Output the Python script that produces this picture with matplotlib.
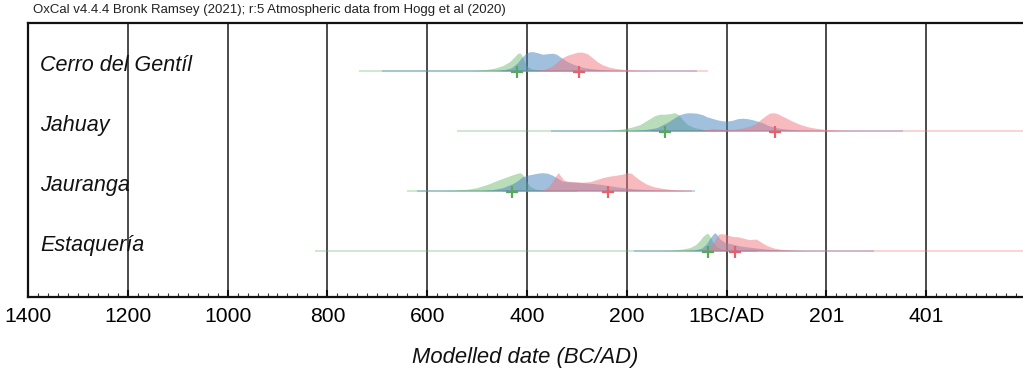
import matplotlib
matplotlib.use("Agg")
import matplotlib.pyplot as plt
from matplotlib.ticker import MultipleLocator

plt.rcParams['font.family'] = ['Liberation Sans', 'DejaVu Sans']

# ---------------- data ----------------
sites = ["Cerro del Gentíl", "Jahuay", "Jauranga", "Estaquería"]
row_pos = [4, 3, 2, 1]

tick_years = [-1400, -1200, -1000, -800, -600, -400, -200, 0, 200, 400]
tick_labels = ["1400", "1200", "1000", "800", "600", "400", "200", "1BC/AD", "201", "401"]

# Cerro del Gentíl
cg_green_x = [-515, -485, -465, -449, -435, -425, -419, -415, -411, -405, -399, -389, -365, -335]
cg_green_p = [0, 1, 2.5, 5, 9, 14, 17, 18, 16, 9, 4, 1.5, 0.3, 0]
cg_blue_x = [-465, -445, -431, -419, -411, -403, -395, -387, -379, -369, -359, -349, -341, -331,
             -319, -305, -289, -271, -249, -225, -195]
cg_blue_p = [0, 1, 3, 8, 13, 17, 19, 19, 18, 16.5, 17, 17.5, 16.5, 13, 9, 6, 3.5, 2, 1, 0.3, 0]
cg_red_x = [-385, -365, -351, -339, -329, -319, -309, -299, -289, -279, -269, -259, -249, -235,
            -219, -199, -174, -144]
cg_red_p = [0, 1.5, 4, 9, 13, 15.5, 17, 18.5, 18.5, 17, 13, 9, 6, 3.5, 2, 1, 0.3, 0]

# Jahuay
jh_green_x = [-255, -231, -211, -191, -174, -164, -154, -144, -134, -124, -114, -104, -96, -88,
              -78, -64, -44, -14, 16]
jh_green_p = [0, 0.7, 1.5, 3.5, 6, 9, 12, 15, 16.5, 16.5, 17, 18, 16, 11, 6, 3, 1, 0.3, 0]
jh_blue_x = [-195, -164, -140, -120, -104, -94, -84, -74, -60, -48, -40, -30, -20, -10, 0, 12,
             22, 32, 42, 52, 62, 72, 82, 92, 106, 120, 146, 187, 227]
jh_blue_p = [0, 1, 3, 8, 13, 16, 17.5, 18, 17.5, 16, 14, 12.5, 11, 10, 9.5, 10.5, 12, 12.5, 12,
             11, 9.5, 8, 5.5, 4, 2.5, 1.5, 0.6, 0.2, 0]
jh_red_x = [-54, -40, -28, -14, 0, 16, 30, 46, 58, 68, 78, 86, 94, 102, 112, 122, 132, 146, 162,
            178, 199, 227, 267]
jh_red_p = [0, 1, 2, 1.5, 1, 1.5, 2.5, 4.5, 7, 11, 15, 17.5, 18, 17, 14.5, 12, 9.5, 6.5, 4, 2.5,
            1.2, 0.5, 0]

# Jauranga
ja_green_x = [-576, -546, -519, -501, -481, -461, -445, -431, -419, -413, -407, -401, -393, -383,
              -365, -345]
ja_green_p = [0, 0.5, 1.5, 3, 6, 10, 13, 15.5, 17.5, 18, 15, 9, 4, 1.5, 0.3, 0]
ja_blue_x = [-495, -469, -449, -429, -419, -409, -399, -389, -379, -369, -359, -349, -339, -329,
             -319, -305, -289, -275, -255, -235, -215, -189, -158, -124, -74]
ja_blue_p = [0, 1, 3, 7, 10, 14, 15.5, 16.5, 17.5, 18, 17.5, 15.5, 12.5, 9.5, 9, 8.5, 8, 7.5,
             6.5, 5, 3.5, 2, 1, 0.4, 0]
ja_red_x = [-379, -365, -355, -347, -341, -337, -333, -327, -319, -305, -289, -275, -261, -249,
            -235, -221, -209, -199, -191, -183, -172, -160, -146, -130, -110, -88, -64]
ja_red_p = [0, 1, 5, 11, 16, 18, 15, 11, 9.5, 9, 8.5, 9, 11, 13, 14.5, 15.5, 16.5, 18, 17.5, 14,
            10, 6.5, 4, 2.5, 1.2, 0.5, 0]

# Estaquería
es_green_x = [-134, -110, -90, -74, -62, -54, -48, -42, -38, -34, -28, -20, -10, 6, 26]
es_green_p = [0, 0.5, 1.5, 3, 6, 10, 14, 16.5, 17.5, 15, 9, 4, 1.5, 0.5, 0]
es_blue_x = [-84, -64, -50, -40, -34, -28, -24, -20, -14, -6, 4, 16, 30, 46, 62, 80, 106, 146, 187]
es_blue_p = [0, 0.8, 2.5, 7, 12, 16, 18, 16.5, 12, 9, 7.5, 6, 4.5, 3.5, 2.5, 1.5, 0.7, 0.2, 0]
es_red_x = [-54, -40, -30, -22, -16, -10, -2, 6, 14, 22, 30, 38, 46, 54, 60, 66, 74, 84, 96, 112,
            130, 156]
es_red_p = [0, 1, 5, 12, 16.5, 17, 16.5, 15, 14, 14, 13, 12, 11, 11.5, 11.5, 9.5, 7, 4.5, 2.5,
            1.2, 0.5, 0]

# medians (crosses)
green_medians = [-421, -124, -431, -38]
red_medians = [-295, 98, -237, 16]

# full ranges (thin lines): (start, end) per row
green_ranges = [(-736, -300), (-541, 0), (-640, -300), (-824, 60)]
blue_ranges = [(-690, -60), (-351, 353), (-620, -64), (-185, 295)]
red_ranges = [(-450, -38), (-150, 700), (-450, -70), (0, 700)]

green_x = [cg_green_x, jh_green_x, ja_green_x, es_green_x]
green_p = [cg_green_p, jh_green_p, ja_green_p, es_green_p]
blue_x = [cg_blue_x, jh_blue_x, ja_blue_x, es_blue_x]
blue_p = [cg_blue_p, jh_blue_p, ja_blue_p, es_blue_p]
red_x = [cg_red_x, jh_red_x, ja_red_x, es_red_x]
red_p = [cg_red_p, jh_red_p, ja_red_p, es_red_p]

# ---------------- plot ----------------
W, H = 1023, 370
fig = plt.figure(figsize=(W / 100, H / 100), dpi=100)
ax = fig.add_axes([28 / W, (H - 297) / H, 1 - 28 / W, (297 - 23) / H])

scale = 1 / 60.0
GREEN = '#6cb56c'
BLUE = '#4a86c0'
RED = '#f07880'

for i, base in enumerate(row_pos):
    for (a, b), c in zip([green_ranges[i], blue_ranges[i], red_ranges[i]], [GREEN, BLUE, RED]):
        ax.plot([a, b], [base, base], color=c, lw=1.3, alpha=0.35, solid_capstyle='butt', zorder=2)
    for xs, ps, c, al in [(green_x[i], green_p[i], GREEN, 0.47),
                          (blue_x[i], blue_p[i], BLUE, 0.52),
                          (red_x[i], red_p[i], RED, 0.5)]:
        ax.fill_between(xs, base, [base + p * scale for p in ps], color=c, alpha=al, lw=0, zorder=3)
    ax.plot(green_medians[i], base - 0.025, marker='+', ms=9, mew=1.6, color='#5aa85a', zorder=4)
    ax.plot(red_medians[i], base - 0.025, marker='+', ms=9, mew=1.6, color='#e8606a', zorder=4)
    ax.text(-1376, base, sites[i], fontsize=15.5, style='italic', ha='left', va='baseline',
            color='#111', zorder=5)

for t in tick_years[1:]:
    ax.axvline(t, color='#222', lw=1.15, zorder=1)

ax.set_xlim(-1400, 594)
ax.set_ylim(0.228, 4.795)
ax.set_yticks([])
ax.set_xticks(tick_years)
ax.set_xticklabels(tick_labels, fontsize=15.2)
ax.xaxis.set_minor_locator(MultipleLocator(20))
ax.tick_params(axis='x', which='major', direction='in', length=5, width=1.5, pad=7.5, color='#111')
ax.tick_params(axis='x', which='minor', direction='in', length=3, width=0.8, color='#333')
ax.spines['right'].set_visible(False)
for s in ['left', 'bottom', 'top']:
    ax.spines[s].set_linewidth(1.6)
    ax.spines[s].set_color('#111')

ax.set_xlabel('Modelled date (BC/AD)', fontsize=15.8, style='italic', labelpad=15, color='#111')

fig.text(33 / W, 1 - 10 / H, 'OxCal v4.4.4 Bronk Ramsey (2021); r:5 Atmospheric data from Hogg et al (2020)',
         fontsize=9.5, ha='left', va='center', color='#222')

fig.savefig('out.png', dpi=100)
